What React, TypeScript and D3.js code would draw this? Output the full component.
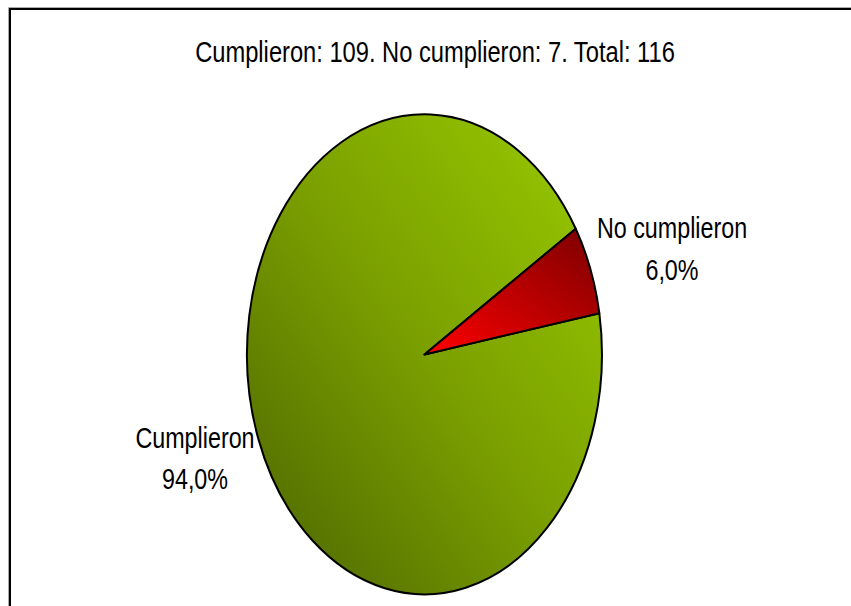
import React from "react";
import * as d3 from "d3";

const categories = ["Cumplieron", "No cumplieron"];
const counts = [109, 7];
const titleText = "Cumplieron: 109. No cumplieron: 7. Total: 116";

const W = 851;
const H = 606;
const CX = 424.5;
const CY = 354.5;
const RX = 177.5;
const RY = 240;
const START_DEG = 80.1;

const FONT = "'Liberation Sans', Arial, sans-serif";
const NARROW = 0.79;

export default function App() {
  const total = d3.sum(counts);
  const pie = d3
    .pie<number>()
    .sort(null)
    .startAngle((START_DEG * Math.PI) / 180)
    .endAngle((START_DEG * Math.PI) / 180 + 2 * Math.PI);
  const arcs = pie(counts);
  const arc = d3.arc<d3.PieArcDatum<number>>().innerRadius(0).outerRadius(1);
  const fills = ["url(#gGreen)", "url(#gRed)"];
  const fmt = (v: number) => (Math.round((v / total) * 1000) / 10).toFixed(1).replace(".", ",") + "%";

  const labelPos = [
    { x: 195, y1: 448, y2: 489 },
    { x: 672, y1: 238, y2: 280 },
  ];

  return (
    <svg
      width={W}
      height={H}
      style={{ position: "absolute", left: 0, top: 0, background: "#fff" }}
    >
      <defs>
        <linearGradient id="gGreen" x1="0" y1="1" x2="1" y2="0">
          <stop offset="0" stopColor="#4a6300" />
          <stop offset="0.5" stopColor="#7a9f00" />
          <stop offset="1" stopColor="#9acc00" />
        </linearGradient>
        <linearGradient id="gRed" x1="0" y1="1" x2="1" y2="0">
          <stop offset="0" stopColor="#ff0000" />
          <stop offset="1" stopColor="#7a0000" />
        </linearGradient>
      </defs>
      <rect x={0} y={0} width={W} height={H} fill="#fff" />
      <path d={`M8.5,${H} V7.5 H${W}`} fill="none" stroke="#aaa" strokeWidth={1} />
      <path d={`M10,${H} V9 H${W}`} fill="none" stroke="#000" strokeWidth={2} />

      <g transform={`translate(${CX},${CY}) scale(${RX},${RY})`}>
        {arcs.map((a, i) => (
          <path
            key={categories[i]}
            d={arc(a) as string}
            fill={fills[i]}
            stroke="#000"
            strokeWidth={2}
            vectorEffect="non-scaling-stroke"
            strokeLinejoin="round"
          />
        ))}
      </g>

      <text
        transform={`translate(435,62) scale(${NARROW},1)`}
        textAnchor="middle"
        fontFamily={FONT}
        fontSize={30}
        fill="#000"
      >
        {titleText}
      </text>

      {categories.map((c, i) => (
        <g key={c}>
          <text
            transform={`translate(${labelPos[i].x},${labelPos[i].y1}) scale(${NARROW},1)`}
            textAnchor="middle"
            fontFamily={FONT}
            fontSize={29.5}
            fill="#000"
          >
            {c}
          </text>
          <text
            transform={`translate(${labelPos[i].x},${labelPos[i].y2}) scale(${NARROW},1)`}
            textAnchor="middle"
            fontFamily={FONT}
            fontSize={29.5}
            fill="#000"
          >
            {fmt(counts[i])}
          </text>
        </g>
      ))}
    </svg>
  );
}
